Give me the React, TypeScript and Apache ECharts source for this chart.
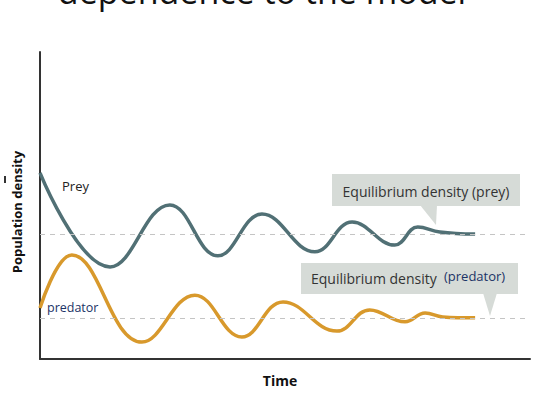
import { useEffect, useRef } from "react";
import * as echarts from "echarts";

// Turning points of each curve: time (0-100) and density (0-100)
const preyTime = [0, 14.3, 26.5, 36.3, 45.3, 56.1, 63.7, 72.4, 77.1, 81.6, 88.8];
const preyDensity = [60.6, 30.0, 50.2, 33.6, 47.2, 34.9, 44.6, 37.1, 43.0, 41.4, 40.7];
const predatorTime = [0, 6.5, 20.8, 31.6, 41.2, 49.6, 60.6, 67.3, 74.5, 78.6, 82.2, 88.8];
const predatorDensity = [16.6, 33.9, 5.5, 20.8, 7.2, 18.6, 9.1, 16.0, 12.1, 15.0, 13.7, 13.4];
const preyEquilibrium = 40.7;
const predatorEquilibrium = 13.4;

const title = "dependence to the model";
const yName = "Population density";
const xName = "Time";
const preyLabel = "Prey";
const predatorLabel = "predator";
const preyCallout = "Equilibrium density (prey)";
const predatorCalloutA = "Equilibrium density";
const predatorCalloutB = "(predator)";

const PREY_COLOR = "#517075";
const PRED_COLOR = "#d8992c";
const BOX = "#d6dbd7";
const FONT = "'Open Sans', 'Noto Sans', sans-serif";

export default function App() {
  const ref = useRef<HTMLDivElement>(null);
  useEffect(() => {
    if (!ref.current) return;
    const chart = echarts.init(ref.current, undefined, { renderer: "svg" });
    const dashed = (v: number) => ({
      silent: true,
      symbol: ["none", "none"],
      label: { show: false },
      lineStyle: { type: [5, 5], color: "#c4c4c4", width: 1.2 },
      data: [{ yAxis: v }],
    });
    chart.setOption({
      animation: false,
      backgroundColor: "#ffffff",
      grid: { left: 40, top: 52, width: 490, height: 307 },
      xAxis: {
        type: "value",
        min: 0,
        max: 100,
        axisLine: { show: true, onZero: false, lineStyle: { color: "#333", width: 2 } },
        axisTick: { show: false },
        axisLabel: { show: false },
        splitLine: { show: false },
      },
      yAxis: {
        type: "value",
        min: 0,
        max: 100,
        axisLine: { show: true, lineStyle: { color: "#333", width: 2 } },
        axisTick: { show: false },
        axisLabel: { show: false },
        splitLine: { show: false },
      },
      series: [
        {
          name: "Prey",
          type: "line",
          smooth: 0.42,
          showSymbol: false,
          lineStyle: { color: PREY_COLOR, width: 3.5 },
          itemStyle: { color: PREY_COLOR },
          data: preyTime.map((t, i) => [t, preyDensity[i]]),
          markLine: dashed(preyEquilibrium),
          z: 3,
        },
        {
          name: "Predator",
          type: "line",
          smooth: 0.42,
          showSymbol: false,
          lineStyle: { color: PRED_COLOR, width: 3.5 },
          itemStyle: { color: PRED_COLOR },
          data: predatorTime.map((t, i) => [t, predatorDensity[i]]),
          markLine: dashed(predatorEquilibrium),
          z: 3,
        },
      ],
      graphic: [
        {
          type: "text",
          style: { text: title, x: 262, y: 8, font: `34px ${FONT}`, fill: "#111", textAlign: "center", textVerticalAlign: "bottom" },
        },
        { type: "rect", shape: { x: 4, y: 176, width: 2, height: 7 }, style: { fill: "#333" } },
        {
          type: "text",
          x: 17,
          y: 212,
          rotation: Math.PI / 2,
          style: { text: yName, x: 0, y: 0, font: `bold 13px ${FONT}`, fill: "#111", textAlign: "center", textVerticalAlign: "middle" },
        },
        {
          type: "text",
          style: { text: xName, x: 280, y: 380, font: `bold 14px ${FONT}`, fill: "#111", textAlign: "center", textVerticalAlign: "middle" },
        },
        {
          type: "text",
          style: { text: preyLabel, x: 62, y: 186, font: `13px ${FONT}`, fill: "#222", textAlign: "left", textVerticalAlign: "middle" },
        },
        {
          type: "text",
          style: { text: predatorLabel, x: 47, y: 307, font: `12.5px ${FONT}`, fill: "#1b3366", textAlign: "left", textVerticalAlign: "middle" },
        },
        { type: "rect", z: 10, shape: { x: 332, y: 174, width: 188, height: 32 }, style: { fill: BOX } },
        { type: "polygon", z: 10, shape: { points: [[420, 205], [437, 205], [436, 225]] }, style: { fill: BOX } },
        {
          type: "text",
          z: 11,
          style: { text: preyCallout, x: 426, y: 191, font: `14px ${FONT}`, fill: "#333", textAlign: "center", textVerticalAlign: "middle" },
        },
        { type: "rect", z: 10, shape: { x: 301, y: 263, width: 217, height: 31 }, style: { fill: BOX } },
        { type: "polygon", z: 10, shape: { points: [[483, 293], [497, 293], [490, 316]] }, style: { fill: BOX } },
        {
          type: "text",
          z: 11,
          style: { text: predatorCalloutA, x: 311, y: 278, font: `14px ${FONT}`, fill: "#333", textAlign: "left", textVerticalAlign: "middle" },
        },
        {
          type: "text",
          z: 11,
          style: { text: predatorCalloutB, x: 444, y: 276, font: `13px ${FONT}`, fill: "#1b3366", textAlign: "left", textVerticalAlign: "middle" },
        },
      ],
    });
    return () => chart.dispose();
  }, []);
  return <div ref={ref} style={{ position: "fixed", left: 0, top: 0, width: 544, height: 394 }} />;
}
